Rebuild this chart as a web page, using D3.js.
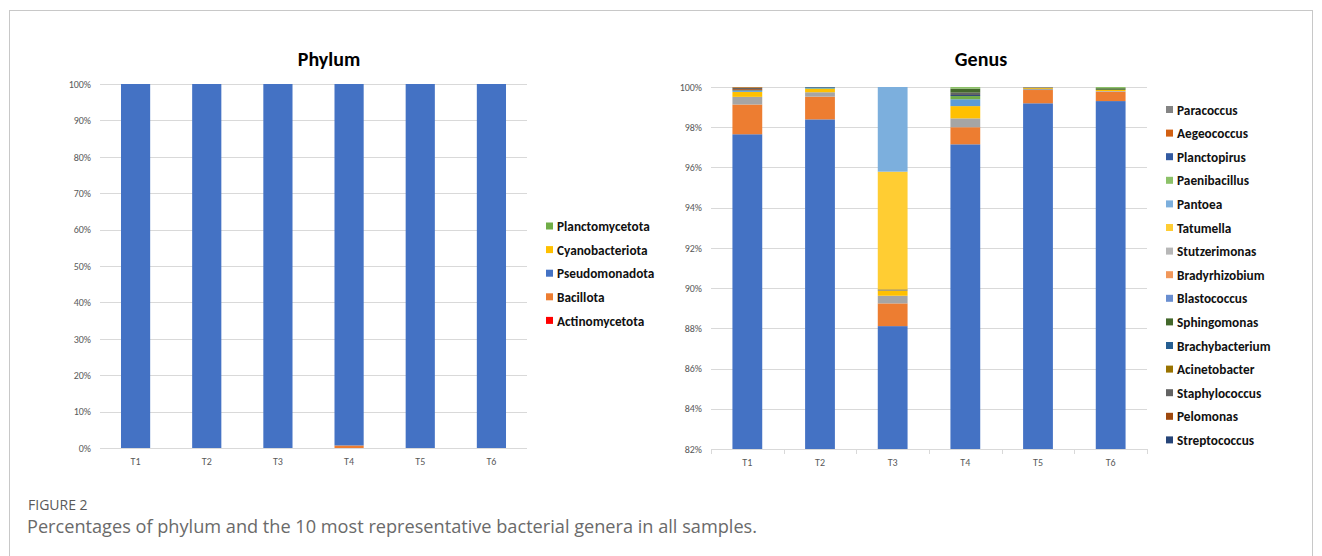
<!DOCTYPE html>
<html lang="en">
<head>
  <meta charset="utf-8">
  <title>Figure 2</title>
  <script src="https://d3js.org/d3.v7.min.js"></script>
  <style>
    body { margin: 0; background: #fff; }
    .axis text { font-family: Carlito, Lato, sans-serif; font-size: 10px; fill: #595959; }
    .axis line { stroke: #d9d9d9; shape-rendering: crispEdges; }
    .axis path { display: none; }
    .title { font-family: Carlito, Lato, sans-serif; font-weight: bold; font-size: 20px; fill: #000; }
    .legend text { font-family: Carlito, Lato, sans-serif; font-weight: bold; font-size: 13.3px; fill: #111; }
  </style>
</head>
<body>
<script>

  // sample names
  var samples = ["T1", "T2", "T3", "T4", "T5", "T6"];

  // ---- Phylum (stacked bottom to top) ----
  var phylumNames  = ["Actinomycetota", "Bacillota", "Pseudomonadota", "Cyanobacteriota", "Planctomycetota"];
  var phylumColors = ["#ff0000", "#ed7d31", "#4472c4", "#ffc000", "#70ad47"];
  var actinomycetota  = [0, 0, 0, 0, 0, 0];
  var bacillota       = [0, 0, 0, 0.7, 0, 0];
  var pseudomonadota  = [100, 100, 100, 99.3, 100, 100];
  var cyanobacteriota = [0, 0, 0, 0, 0, 0];
  var planctomycetota = [0, 0, 0, 0, 0, 0];
  var phylumTicks = [0, 10, 20, 30, 40, 50, 60, 70, 80, 90, 100];

  // ---- Genus (stacked bottom to top) ----
  // the first six series have no legend entry in the original figure
  var genusNames = ["g1", "g2", "g3", "g4", "g5", "g6",
    "Streptococcus", "Pelomonas", "Staphylococcus", "Acinetobacter", "Brachybacterium",
    "Sphingomonas", "Blastococcus", "Bradyrhizobium", "Stutzerimonas", "Tatumella",
    "Pantoea", "Paenibacillus", "Planctopirus", "Aegeococcus", "Paracoccus"];
  var genusColors = ["#4472c4", "#ed7d31", "#a5a5a5", "#ffc000", "#5b9bd5", "#70ad47",
    "#264478", "#9e480e", "#636363", "#997300", "#255e91",
    "#43682b", "#698ed0", "#f1975a", "#b7b7b7", "#ffcd33",
    "#7cafdd", "#8cc168", "#335aa1", "#d26012", "#848484"];
  var genusLegendCount = 15;
  // values per sample, same order as genusNames
  var genusT1 = [97.65, 1.48, 0.38, 0.25, 0.05, 0.02, 0.03, 0.04, 0.06, 0.02, 0, 0, 0, 0, 0, 0, 0, 0, 0, 0.02, 0];
  var genusT2 = [98.39, 1.13, 0.22, 0.16, 0.03, 0.02, 0, 0, 0.02, 0, 0.03, 0, 0, 0, 0, 0, 0, 0, 0, 0, 0];
  var genusT3 = [88.11, 1.13, 0.38, 0.26, 0, 0, 0, 0, 0.03, 0.03, 0, 0, 0, 0, 0, 5.85, 4.21, 0, 0, 0, 0];
  var genusT4 = [97.15, 0.85, 0.44, 0.61, 0.34, 0.16, 0.05, 0, 0.12, 0, 0, 0.2, 0, 0, 0, 0, 0, 0.08, 0, 0, 0];
  var genusT5 = [99.19, 0.66, 0.05, 0.04, 0, 0, 0, 0, 0, 0.03, 0, 0, 0, 0, 0, 0, 0, 0, 0, 0, 0.03];
  var genusT6 = [99.30, 0.47, 0.03, 0.06, 0, 0, 0, 0, 0, 0, 0, 0.08, 0, 0, 0, 0, 0, 0.06, 0, 0, 0];
  var genusTicks = [82, 84, 86, 88, 90, 92, 94, 96, 98, 100];

  var svg = d3.select("body").append("svg")
      .attr("width", 1322)
      .attr("height", 556);

  // figure frame
  svg.append("rect")
      .attr("x", 9.5).attr("y", 10.5)
      .attr("width", 1303).attr("height", 560)
      .attr("fill", "none").attr("stroke", "#c8c8c8");

  // build table rows: {sample, series...}
  var phylumCols = [actinomycetota, bacillota, pseudomonadota, cyanobacteriota, planctomycetota];
  var phylumRows = samples.map(function(s, i) {
    var row = {sample: s};
    phylumNames.forEach(function(n, j) { row[n] = phylumCols[j][i]; });
    return row;
  });
  var genusBySample = [genusT1, genusT2, genusT3, genusT4, genusT5, genusT6];
  var genusRows = samples.map(function(s, i) {
    var row = {sample: s};
    genusNames.forEach(function(n, j) { row[n] = genusBySample[i][j]; });
    return row;
  });

  function drawChart(opt) {
    var g = svg.append("g");
    var x = d3.scaleBand().domain(samples).range([opt.left, opt.right]);
    var y = d3.scaleLinear().domain(opt.domain).range([opt.bottom, opt.top]);

    // gridlines + y labels
    g.append("g")
        .attr("class", "axis")
        .attr("transform", "translate(" + opt.left + ",0)")
        .call(d3.axisLeft(y).tickValues(opt.ticks)
              .tickSize(-(opt.right - opt.left))
              .tickPadding(9)
              .tickFormat(function(d) { return d + "%"; }));

    // x labels
    g.append("g")
        .attr("class", "axis")
        .attr("transform", "translate(0," + opt.bottom + ")")
        .call(d3.axisBottom(x).tickSize(0).tickPadding(10));

    if (opt.boundaryTicks) {
      var edges = samples.map(function(s) { return x(s); }).concat([opt.right]);
      g.selectAll(".edge").data(edges).enter().append("line")
          .attr("x1", function(d) { return Math.round(d) + 0.5; })
          .attr("x2", function(d) { return Math.round(d) + 0.5; })
          .attr("y1", opt.bottom).attr("y2", opt.bottom + 5)
          .attr("stroke", "#d9d9d9");
    }

    var stack = d3.stack().keys(opt.names)(opt.rows);
    var bw = x.bandwidth() * 0.41;
    var lo = opt.domain[0];

    g.selectAll(".layer").data(stack).enter().append("g")
        .attr("fill", function(d, i) { return opt.colors[i]; })
      .selectAll("rect")
        .data(function(d) { return d; })
        .enter().append("rect")
        .attr("x", function(d) { return x(d.data.sample) + (x.bandwidth() - bw) / 2; })
        .attr("width", bw)
        .attr("y", function(d) { return y(Math.max(d[1], lo)); })
        .attr("height", function(d) { return Math.max(0, y(Math.max(d[0], lo)) - y(Math.max(d[1], lo))); });

    // title
    g.append("text")
        .attr("class", "title")
        .attr("x", opt.titleX).attr("y", 66)
        .attr("text-anchor", "middle")
        .text(opt.title);

    // legend: last legendCount series, reversed like Excel
    var start = opt.names.length - opt.legendCount;
    var items = opt.names.map(function(n, i) {
      return {name: n, color: opt.colors[i]};
    }).slice(start).reverse();
    var lg = g.append("g").attr("class", "legend");
    var row = lg.selectAll("g").data(items).enter().append("g")
        .attr("transform", function(d, i) {
          return "translate(" + opt.legendX + "," + (opt.legendY + i * 23.6) + ")";
        });
    row.append("rect")
        .attr("x", 0).attr("y", -4)
        .attr("width", 7).attr("height", 7)
        .attr("fill", function(d) { return d.color; });
    row.append("text")
        .attr("x", 11).attr("y", 0)
        .attr("dy", "0.35em")
        .text(function(d) { return d.name; });
  }

  drawChart({
    names: phylumNames, colors: phylumColors, rows: phylumRows,
    domain: [0, 100], ticks: phylumTicks,
    left: 100, right: 527, top: 84, bottom: 448,
    title: "Phylum", titleX: 329,
    legendX: 546, legendY: 226.5, legendCount: phylumNames.length,
    boundaryTicks: false
  });

  drawChart({
    names: genusNames, colors: genusColors, rows: genusRows,
    domain: [82, 100], ticks: genusTicks,
    left: 711, right: 1147, top: 87, bottom: 449,
    title: "Genus", titleX: 981,
    legendX: 1166, legendY: 110, legendCount: genusLegendCount,
    boundaryTicks: true
  });

  // caption
  svg.append("text")
      .attr("x", 28).attr("y", 510)
      .style("font-family", "'Open Sans', sans-serif")
      .style("font-size", "14px")
      .style("fill", "#5a5a5a")
      .text("FIGURE 2");

  svg.append("text")
      .attr("x", 27).attr("y", 533)
      .style("font-family", "'Open Sans', sans-serif")
      .style("font-size", "18px")
      .style("fill", "#6a6a6a")
      .attr("textLength", 730)
      .attr("lengthAdjust", "spacingAndGlyphs")
      .text("Percentages of phylum and the 10 most representative bacterial genera in all samples.");

</script>
</body>
</html>
